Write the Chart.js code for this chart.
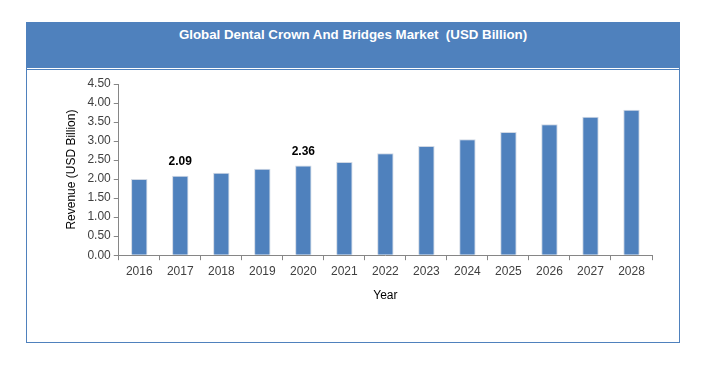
<!DOCTYPE html>
<html>
<head>
<meta charset="utf-8">
<script src="https://cdn.jsdelivr.net/npm/chart.js@4"></script>
<style>
  html, body { margin: 0; padding: 0; background: #fff; }
  #frame {
    position: absolute; left: 26px; top: 22px; width: 652px; height: 319px;
    border: 1px solid #4f81bd; box-sizing: content-box;
  }
  #header {
    position: absolute; left: 0; top: 0; width: 100%; height: 45px;
    background: #4f81bd; border-bottom: 1px solid #fff;
    box-shadow: 0 1px 0 #4f81bd;
  }
  #header h1 {
    margin: 0; padding-top: 4px; text-align: center; color: #fff;
    font: bold 13.3px "Liberation Sans", sans-serif;
  }
  #wrap { position: absolute; left: 0; top: 0; width: 704px; height: 368px; }
</style>
</head>
<body>
<div id="frame"><div id="header"><h1>Global Dental Crown And Bridges Market&nbsp; (USD Billion)</h1></div></div>
<div id="wrap"><canvas id="chart"></canvas></div>
<script>
const years = ['2016', '2017', '2018', '2019', '2020', '2021', '2022', '2023', '2024', '2025', '2026', '2027', '2028'];
const revenue = [2.00, 2.09, 2.17, 2.27, 2.36, 2.45, 2.68, 2.87, 3.05, 3.24, 3.44, 3.64, 3.82];
const labelledYears = ['2017', '2020'];

const valueLabels = {
    id: 'valueLabels',
    afterDatasetsDraw(chart) {
        const ctx = chart.ctx;
        const meta = chart.getDatasetMeta(0);
        ctx.save();
        ctx.font = 'bold 12px "Liberation Sans", sans-serif';
        ctx.fillStyle = '#000';
        ctx.textAlign = 'center';
        ctx.textBaseline = 'middle';
        meta.data.forEach((bar, i) => {
            if (labelledYears.includes(years[i])) {
                ctx.fillText(revenue[i].toFixed(2), bar.x, bar.y - 14);
            }
        });
        ctx.restore();
    }
};

const axisColor = '#868686';
const tickFont = { family: 'Liberation Sans', size: 12 };

new Chart(document.getElementById('chart'), {
    type: 'bar',
    data: {
        labels: years,
        datasets: [{
            data: revenue,
            backgroundColor: '#4f81bd',
            borderColor: '#d0d8e4',
            borderWidth: 1,
            barPercentage: 0.4,
            categoryPercentage: 1
        }]
    },
    options: {
        responsive: true,
        maintainAspectRatio: false,
        animation: false,
        layout: { padding: { left: 60, right: 52, top: 84, bottom: 61 } },
        plugins: {
            legend: { display: false },
            tooltip: { enabled: false }
        },
        scales: {
            x: {
                grid: { drawOnChartArea: false, color: axisColor, tickLength: 5, offset: true },
                border: { color: axisColor },
                ticks: { color: '#404040', font: tickFont, padding: 4 },
                title: { display: true, text: 'Year', color: '#000', font: { family: 'Liberation Sans', size: 12 }, padding: { top: 6 } }
            },
            y: {
                min: 0,
                max: 4.5,
                grid: { drawOnChartArea: false, color: axisColor, tickLength: 5 },
                border: { color: axisColor },
                ticks: {
                    stepSize: 0.5,
                    color: '#404040',
                    font: tickFont,
                    padding: 3,
                    callback: v => v.toFixed(2)
                },
                title: { display: true, text: 'Revenue (USD Billion)', color: '#000', font: { family: 'Liberation Sans', size: 12 }, padding: { bottom: 6 } }
            }
        }
    },
    plugins: [valueLabels]
});
</script>
</body>
</html>
